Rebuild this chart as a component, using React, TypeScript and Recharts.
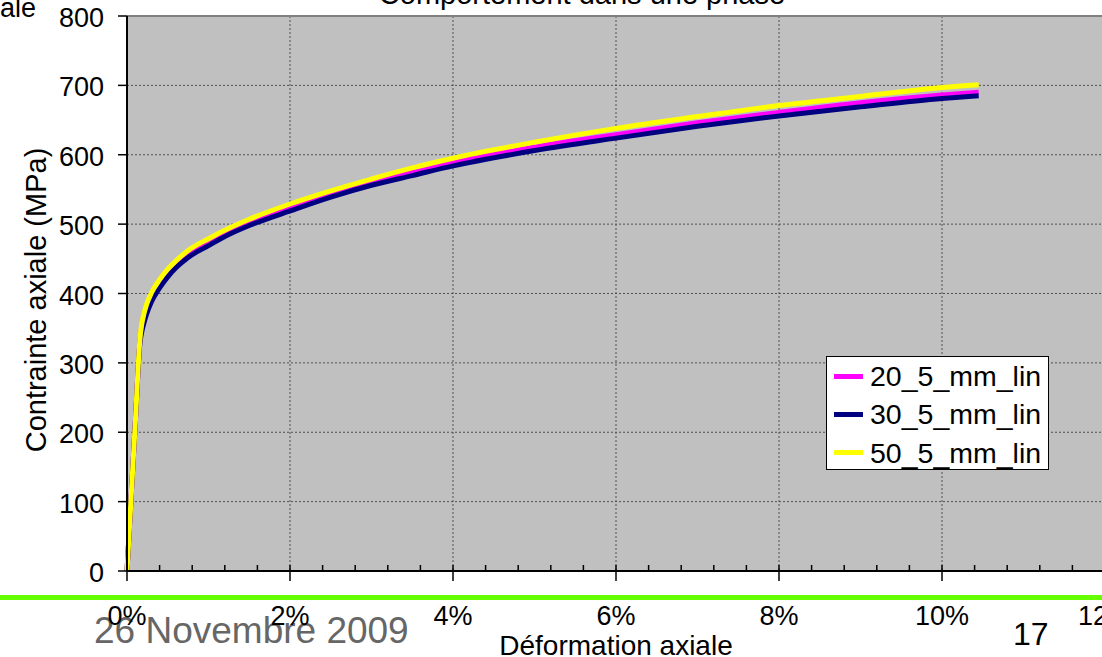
import React from 'react';
import { LineChart, Line, XAxis, YAxis, CartesianGrid, Legend, ReferenceLine } from 'recharts';

// Axial strain (%)
const strain = [0, 0.1, 0.16, 0.18, 0.2, 0.24, 0.3, 0.4, 0.5, 0.6, 0.75, 1.0, 1.25, 1.5, 2, 2.5, 3, 3.5, 4, 5, 6, 7, 8, 9, 10, 10.45];
// Axial stress (MPa) per series
const s20 = [0, 210, 333, 350, 361, 378, 395, 414, 429, 442, 457, 474, 490, 503, 523, 543, 560, 575, 589, 611, 629, 646, 661, 675, 686, 690];
const s30 = [0, 210, 330, 344, 354, 370, 388, 408, 424, 437, 452, 469, 485, 498, 519, 539, 556, 570, 584, 606, 624, 641, 656, 669, 681, 685];
const s50 = [0, 210, 336, 355, 367, 384, 401, 420, 435, 447, 462, 479, 494, 507, 529, 548, 565, 581, 595, 618, 638, 655, 671, 684, 697, 701];

const seriesNames = ['20_5_mm_lin', '30_5_mm_lin', '50_5_mm_lin'];
const seriesKeys = ['s20', 's30', 's50'];
const seriesColors = ['#FF00FF', '#000080', '#FFFF00'];

const xTicks = [0, 2, 4, 6, 8, 10, 12];
const xMinorTicks = [0, 0.4, 0.8, 1.2, 1.6, 2, 2.4, 2.8, 3.2, 3.6, 4, 4.4, 4.8, 5.2, 5.6, 6, 6.4, 6.8, 7.2, 7.6, 8, 8.4, 8.8, 9.2, 9.6, 10, 10.4, 10.8, 11.2, 11.6, 12];
const yTicks = [0, 100, 200, 300, 400, 500, 600, 700, 800];
const yMinorTicks = [0, 20, 40, 60, 80, 100, 120, 140, 160, 180, 200, 220, 240, 260, 280, 300, 320, 340, 360, 380, 400, 420, 440, 460, 480, 500, 520, 540, 560, 580, 600, 620, 640, 660, 680, 700, 720, 740, 760, 780, 800];

const title = 'Comportement dans une phase';
const xTitle = 'Déformation axiale';
const yTitle = 'Contrainte axiale (MPa)';
const dateText = '26 Novembre 2009';
const pageNum = '17';
const cutText = 'ale';

const data = strain.map((x, i) => ({ x, s20: s20[i], s30: s30[i], s50: s50[i] }));

const FONT = '"Liberation Sans", Arial, Helvetica, sans-serif';

const EmptyTick = () => <g />;

const YTick = (props: any) => {
  const { x, y, payload } = props;
  return (
    <text x={x} y={y} dy={11} textAnchor="end" fill="#000" fontSize={27} fontFamily={FONT}>
      {payload.value}
    </text>
  );
};

const LegendContent = (props: any) => {
  const payload = (props && props.payload && props.payload.length ? props.payload : seriesNames.map((n, i) => ({ value: n, color: seriesColors[i] })));
  return (
    <div
      style={{
        width: 223,
        height: 114,
        boxSizing: 'border-box',
        border: '1.5px solid #000',
        background: '#fff',
        fontFamily: FONT,
        fontSize: 28.5,
        color: '#000',
        position: 'relative',
      }}
    >
      {payload.map((p: any, i: number) => (
        <div
          key={i}
          style={{ position: 'absolute', left: 0, top: i * 38.3, height: 38.3, width: '100%', display: 'flex', alignItems: 'center' }}
        >
          <div style={{ marginLeft: 7, width: 29, height: 5, background: p.color }} />
          <div style={{ marginLeft: 7, lineHeight: '38px', whiteSpace: 'nowrap' }}>{p.value}</div>
        </div>
      ))}
    </div>
  );
};

export default function App() {
  return (
    <div style={{ position: 'fixed', left: 0, top: 0, width: 1102, height: 657, overflow: 'hidden', background: '#fff' }}>
      <svg width={1102} height={657} style={{ position: 'absolute', left: 0, top: 0 }} fontFamily={FONT}>
        <rect x={0} y={595} width={1102} height={5} fill="#66FF00" />
        <text x={94} y={643} fontSize={37} fill="#666666">{dateText}</text>
        <text x={1013} y={645} fontSize={32} fill="#000">{pageNum}</text>
        <text x={0} y={17} fontSize={27} fill="#000">{cutText}</text>
        <text x={582} y={4} fontSize={29} fill="#000" textAnchor="middle">{title}</text>
        <text x={616} y={655} fontSize={28} fill="#000" textAnchor="middle">{xTitle}</text>
        <text x={46} y={300} fontSize={29} fill="#000" textAnchor="middle" transform="rotate(-90, 46, 300)">{yTitle}</text>
      </svg>
      <div style={{ position: 'absolute', left: 0, top: 0 }}>
        <LineChart width={1110} height={657} data={data} margin={{ top: 16, right: 5, bottom: 46, left: 67 }}>
          <CartesianGrid stroke="#505050" strokeDasharray="2 2" fill="#C0C0C0" fillOpacity={1} />
          <XAxis
            dataKey="x"
            type="number"
            domain={[0, 12]}
            ticks={xTicks}
            interval={0}
            height={40}
            tickSize={10}
            tickMargin={25}
            tickFormatter={(v: number) => `${v}%`}
            tick={{ fill: '#000', fontSize: 27, fontFamily: FONT }}
            axisLine={{ stroke: '#000', strokeWidth: 2 }}
            tickLine={{ stroke: '#000', strokeWidth: 1.5 }}
          />
          <XAxis
            xAxisId="minor"
            dataKey="x"
            type="number"
            domain={[0, 12]}
            ticks={xMinorTicks}
            interval={0}
            mirror
            tickSize={6}
            tick={<EmptyTick />}
            axisLine={false}
            tickLine={{ stroke: '#000', strokeWidth: 1.5 }}
          />
          <YAxis
            type="number"
            domain={[0, 800]}
            ticks={yTicks}
            interval={0}
            width={60}
            tickSize={9}
            tickMargin={14}
            tick={<YTick />}
            axisLine={{ stroke: '#000', strokeWidth: 2 }}
            tickLine={{ stroke: '#000', strokeWidth: 1.5 }}
          />
          <YAxis
            yAxisId="minor"
            type="number"
            domain={[0, 800]}
            ticks={yMinorTicks}
            interval={0}
            mirror
            tickSize={6}
            tick={<EmptyTick />}
            axisLine={false}
            tickLine={{ stroke: '#000', strokeWidth: 1.5 }}
          />
          <ReferenceLine y={800} stroke="#808080" strokeWidth={2} />
          {seriesKeys.map((k, i) => (
            <Line
              key={k}
              dataKey={k}
              name={seriesNames[i]}
              type="monotone"
              stroke={seriesColors[i]}
              strokeWidth={5}
              dot={false}
              activeDot={false}
              isAnimationActive={false}
            />
          ))}
          <Legend
            layout="vertical"
            align="center"
            verticalAlign="middle"
            wrapperStyle={{ left: 826, top: 356, width: 223, height: 114 }}
            content={<LegendContent />}
          />
        </LineChart>
      </div>
    </div>
  );
}
